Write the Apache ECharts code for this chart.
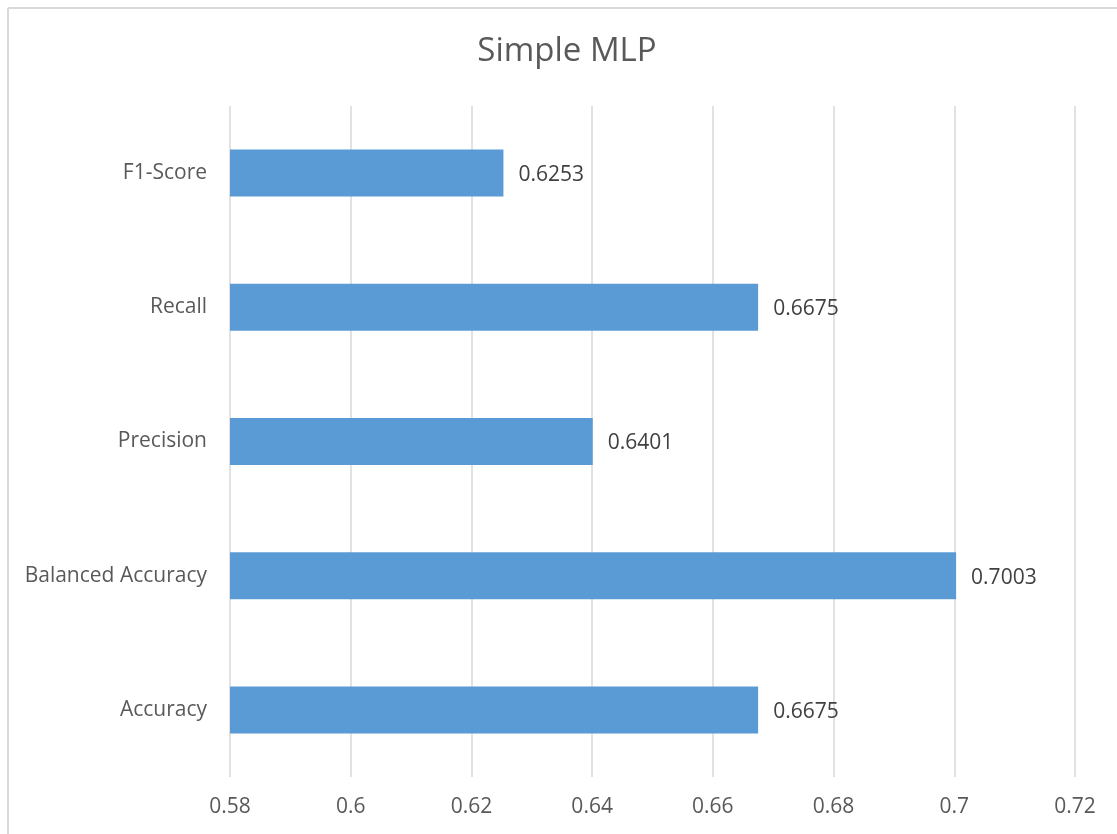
<!DOCTYPE html>
<html>
<head>
<meta charset="utf-8">
<script src="https://cdn.jsdelivr.net/npm/echarts@6/dist/echarts.min.js"></script>
<style>
  html, body { margin: 0; padding: 0; background: #ffffff; }
  #chart { width: 1117px; height: 834px; }
</style>
</head>
<body>
<div id="chart"></div>
<script>
// Metrics of the simple MLP classifier (bottom to top on the category axis)
const categories = ['Accuracy', 'Balanced Accuracy', 'Precision', 'Recall', 'F1-Score'];
const scores = [0.6675, 0.7003, 0.6401, 0.6675, 0.6253];
const axisMin = 0.58;
const axisMax = 0.72;
const axisStep = 0.02;

const FONT = '"Open Sans", sans-serif';
const TEXT = '#595959';

const chart = echarts.init(document.getElementById('chart'));
chart.setOption({
  backgroundColor: '#ffffff',
  animation: false,
  grid: { left: 230, right: 42, top: 106, bottom: 57, containLabel: false },
  xAxis: {
    type: 'value',
    min: axisMin,
    max: axisMax,
    interval: axisStep,
    axisLine: { show: false },
    axisTick: { show: false },
    axisLabel: {
      margin: 20,
      fontFamily: FONT,
      fontSize: 21,
      color: TEXT,
      formatter: v => String(parseFloat(v.toFixed(4)))
    },
    splitLine: { show: true, lineStyle: { color: '#d9d9d9', width: 1.5 } }
  },
  yAxis: {
    type: 'category',
    data: categories,
    axisLine: { show: false },
    axisTick: { show: false },
    axisLabel: { margin: 23, fontFamily: FONT, fontSize: 21, color: TEXT },
    splitLine: { show: false }
  },
  series: [{
    type: 'bar',
    data: scores,
    barWidth: '35%',
    itemStyle: { color: '#5b9bd5' },
    label: {
      show: true,
      position: 'right',
      distance: 15,
      offset: [0, 2],
      fontFamily: FONT,
      fontSize: 21,
      color: '#404040',
      formatter: p => p.value.toFixed(4)
    }
  }],
  graphic: [
    // chart title
    {
      type: 'text', x: 567, y: 52,
      style: {
        text: 'Simple MLP', align: 'center', verticalAlign: 'middle',
        fontFamily: FONT, fontSize: 33, fill: TEXT
      }
    },
    // chart frame (top and left edges)
    { type: 'line', shape: { x1: 8, y1: 8, x2: 1117, y2: 8 }, style: { stroke: '#d9d9d9', lineWidth: 2 } },
    { type: 'line', shape: { x1: 8, y1: 8, x2: 8, y2: 834 }, style: { stroke: '#d9d9d9', lineWidth: 2 } }
  ]
});
</script>
</body>
</html>
